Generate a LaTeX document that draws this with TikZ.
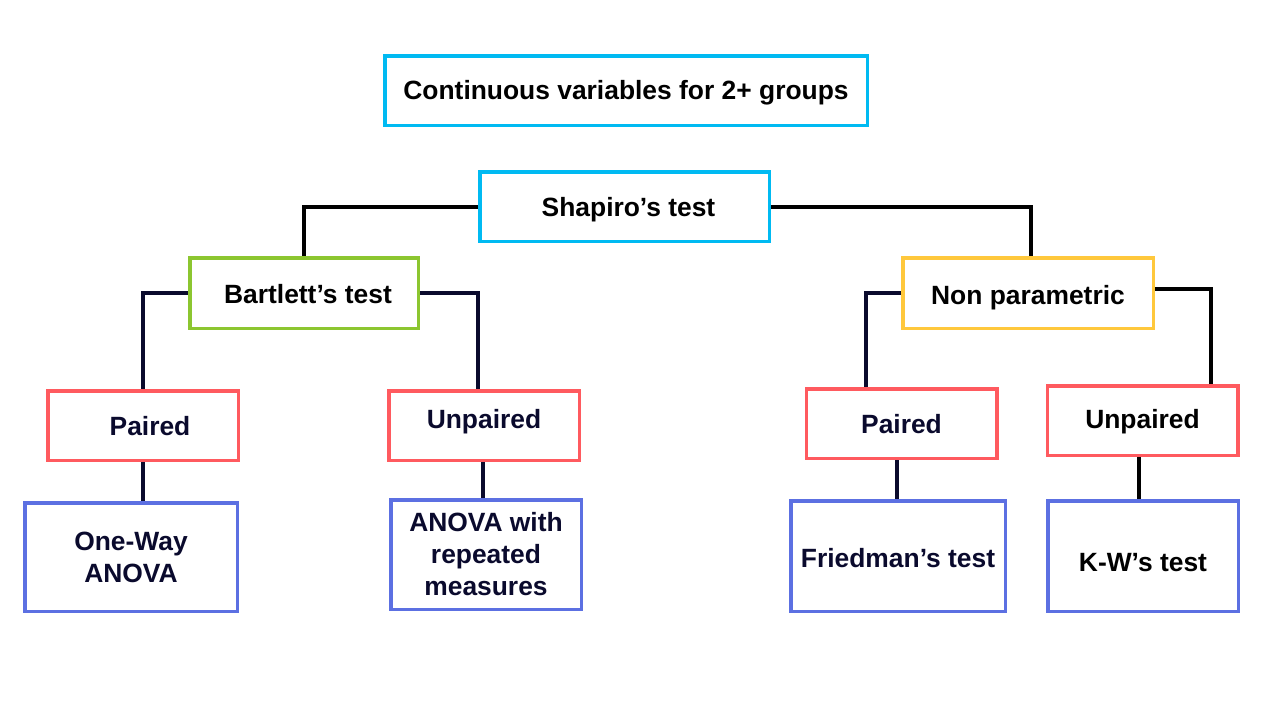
\documentclass[tikz,border=0pt]{standalone}
\usepackage{fontspec}
\setmainfont{Liberation Sans}
\definecolor{cyanb}{RGB}{0,186,242}
\definecolor{greenb}{RGB}{140,198,48}
\definecolor{yellowb}{RGB}{255,200,60}
\definecolor{redb}{RGB}{255,90,95}
\definecolor{blueb}{RGB}{92,112,226}
\definecolor{navy}{RGB}{10,10,45}
\newcommand{\vmove}[2]{\raisebox{#1}[\height][\depth]{#2}}
\tikzset{
  box/.style={draw, line width=1.75pt, inner sep=0pt, align=center,
    font=\fontsize{13.2}{16}\selectfont\bfseries, fill=white},
  conn/.style={line width=2pt, navy},
  connk/.style={line width=2pt, black}
}
\begin{document}
\begin{tikzpicture}[x=0.5pt,y=-0.5pt]
\useasboundingbox (0,0) rectangle (1280,720);
\node[box, draw=cyanb, minimum width=241.25pt, minimum height=34.75pt] (top) at (626,90.5) {\vmove{-1pt}{Continuous variables for 2+ groups}};
\node[box, draw=cyanb, minimum width=144.75pt, minimum height=34.75pt] (shap) at (624.5,206.5) {\hspace*{4pt}\vmove{-1.5pt}{Shapiro’s test}};
\node[box, draw=greenb, minimum width=114.25pt, minimum height=35.25pt] (bart) at (304,293) {\hspace*{4pt}\vmove{-0.5pt}{Bartlett’s test}};
\node[box, draw=yellowb, minimum width=125.25pt, minimum height=35.25pt] (np) at (1028,293) {\vmove{-2.5pt}{Non parametric}};
\node[box, draw=redb, text=navy, minimum width=95.25pt, minimum height=34.75pt] (pL) at (143,425.5) {\hspace*{7pt}\vmove{-0.5pt}{Paired}};
\node[box, draw=redb, text=navy, minimum width=95.25pt, minimum height=34.75pt] (uL) at (484,425.5) {\vmove{2pt}{Unpaired}};
\node[box, draw=redb, text=navy, minimum width=95.25pt, minimum height=34.75pt] (pR) at (901.5,423.5) {\vmove{-0.5pt}{Paired}};
\node[box, draw=redb, minimum width=95.25pt, minimum height=34.75pt] (uR) at (1142.5,420.5) {\vmove{-0.75pt}{Unpaired}};
\node[box, draw=blueb, text=navy, minimum width=106.25pt, minimum height=54.25pt] (ow) at (131,557) {One-Way\\ANOVA};
\node[box, draw=blueb, text=navy, minimum width=95.25pt, minimum height=54.75pt] (aw) at (486,554.5) {ANOVA with\\repeated\\measures};
\node[box, draw=blueb, text=navy, minimum width=107.25pt, minimum height=55.25pt] (fr) at (898,556) {\vmove{-1pt}{Friedman’s test}};
\node[box, draw=blueb, minimum width=95.25pt, minimum height=55.25pt] (kw) at (1143,556) {\vmove{-3.25pt}{K-W’s test}};
% connectors
\draw[connk] (shap.west) -| (bart.north);
\draw[connk] (shap.east) -| ([xshift=1.5pt]np.north);
\draw[conn] (bart.west) -| (pL.north);
\draw[conn] (bart.east) -| ([xshift=-3pt]uL.north);
\draw[conn] (np.west) -| ([xshift=-18pt]pR.north);
\draw[connk] ([yshift=2pt]np.east) -| ([xshift=34pt]uR.north);
\draw[conn] (pL.south) -- (pL.south |- ow.north);
\draw[conn] ([xshift=-0.5pt]uL.south) -- ([xshift=-0.5pt]uL.south |- aw.north);
\draw[conn] ([xshift=-2.5pt]pR.south) -- ([xshift=-2.5pt]pR.south |- fr.north);
\draw[connk] ([xshift=-2pt]uR.south) -- ([xshift=-2pt]uR.south |- kw.north);
\end{tikzpicture}
\end{document}
